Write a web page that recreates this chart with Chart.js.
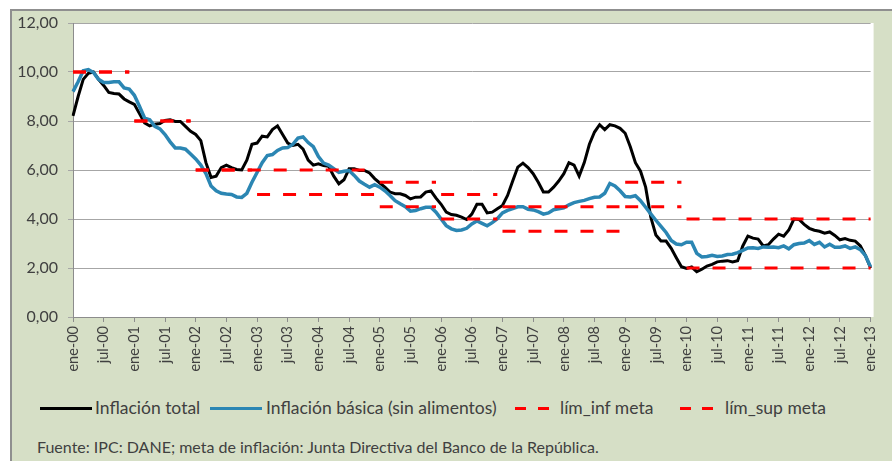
<!DOCTYPE html>
<html lang="es">
<head>
<meta charset="utf-8">
<script src="https://cdn.jsdelivr.net/npm/chart.js@4.4.1/dist/chart.umd.min.js"></script>
<style>
  html, body { margin: 0; padding: 0; background: #fff; }
  body { width: 892px; height: 461px; position: relative; overflow: hidden; font-family: Lato, 'Open Sans', sans-serif; color: #404040; }
  #frame { position: absolute; left: 10px; top: 9px; width: 900px; height: 470px; background: #d6dfc6; border-left: 2px solid #8f8f8f; border-top: 2px solid #8f8f8f; }
  #wrap { position: absolute; left: 0; top: 0; width: 892px; height: 377px; }
  .lg-line { position: absolute; top: 407px; height: 3px; }
  .lg-text { position: absolute; top: 397px; line-height: 22px; font-size: 17.5px; white-space: nowrap; }
  #source { position: absolute; left: 37px; top: 437px; line-height: 20px; font-size: 16px; white-space: nowrap; }
</style>
</head>
<body>
<div id="frame"></div>
<div id="wrap"><canvas id="chart"></canvas></div>

<span class="lg-line" style="left:40px;width:52px;background:#000"></span>
<span class="lg-text" style="left:95px">Inflación total</span>
<span class="lg-line" style="left:210px;width:52px;background:#2b86b3"></span>
<span class="lg-text" style="left:266px">Inflación básica (sin alimentos)</span>
<span class="lg-line" style="left:515px;width:11px;background:#ff0000"></span>
<span class="lg-line" style="left:538px;width:11px;background:#ff0000"></span>
<span class="lg-text" style="left:560px">lím_inf meta</span>
<span class="lg-line" style="left:680px;width:11px;background:#ff0000"></span>
<span class="lg-line" style="left:702px;width:11px;background:#ff0000"></span>
<span class="lg-text" style="left:725px">lím_sup meta</span>
<div id="source">Fuente: IPC: DANE; meta de inflación: Junta Directiva del Banco de la República.</div>

<script>
// monthly series, ene-00 .. ene-13
var monthNames = ['ene', 'feb', 'mar', 'abr', 'may', 'jun', 'jul', 'ago', 'sep', 'oct', 'nov', 'dic'];
var years = ['00', '01', '02', '03', '04', '05', '06', '07', '08', '09', '10', '11', '12', '13'];

var inflacionTotal = [
  8.21, 9.00, 9.70, 9.95, 10.00, 9.70, 9.45, 9.17, 9.12, 9.10, 8.90, 8.78,
  8.68, 8.30, 7.92, 7.80, 7.87, 7.90, 8.02, 8.05, 7.98, 7.98, 7.78, 7.58,
  7.45, 7.20, 6.30, 5.70, 5.75, 6.10, 6.20, 6.10, 6.02, 6.00, 6.40, 7.05,
  7.10, 7.38, 7.35, 7.65, 7.80, 7.45, 7.10, 7.00, 7.05, 6.85, 6.40, 6.20,
  6.25, 6.18, 6.15, 5.75, 5.44, 5.60, 6.05, 6.05, 5.98, 5.98, 5.88, 5.65,
  5.47, 5.30, 5.10, 5.03, 5.03, 4.96, 4.82, 4.89, 4.90, 5.10, 5.15, 4.85,
  4.60, 4.28, 4.18, 4.15, 4.08, 3.98, 4.20, 4.60, 4.60, 4.25, 4.28, 4.42,
  4.55, 4.96, 5.55, 6.12, 6.28, 6.10, 5.85, 5.50, 5.10, 5.10, 5.30, 5.55,
  5.85, 6.30, 6.20, 5.75, 6.30, 7.05, 7.55, 7.85, 7.65, 7.85, 7.80, 7.70,
  7.50, 6.95, 6.30, 5.95, 5.30, 4.08, 3.35, 3.10, 3.10, 2.80, 2.42, 2.05,
  1.98, 2.04, 1.85, 1.95, 2.08, 2.15, 2.25, 2.28, 2.30, 2.25, 2.30, 2.90,
  3.30, 3.22, 3.18, 2.90, 2.95, 3.18, 3.38, 3.30, 3.55, 4.00, 3.98, 3.78,
  3.62, 3.54, 3.50, 3.42, 3.47, 3.33, 3.15, 3.20, 3.13, 3.10, 2.90, 2.50,
  2.00
];

var inflacionBasica = [
  9.20, 9.60, 10.05, 10.10, 9.98, 9.70, 9.57, 9.57, 9.60, 9.60, 9.35, 9.30,
  9.05, 8.60, 8.12, 8.05, 7.78, 7.68, 7.45, 7.15, 6.90, 6.90, 6.85, 6.65,
  6.45, 6.20, 5.85, 5.35, 5.15, 5.05, 5.02, 5.00, 4.90, 4.88, 5.05, 5.50,
  5.90, 6.30, 6.59, 6.63, 6.80, 6.90, 6.92, 7.05, 7.30, 7.35, 7.12, 6.95,
  6.55, 6.28, 6.20, 6.05, 5.90, 5.95, 5.98, 5.78, 5.55, 5.42, 5.30, 5.40,
  5.30, 5.15, 4.96, 4.75, 4.62, 4.50, 4.32, 4.35, 4.42, 4.48, 4.48, 4.28,
  4.00, 3.73, 3.60, 3.53, 3.55, 3.62, 3.80, 3.92, 3.82, 3.72, 3.85, 4.01,
  4.25, 4.35, 4.42, 4.50, 4.50, 4.40, 4.37, 4.30, 4.20, 4.25, 4.38, 4.42,
  4.46, 4.58, 4.67, 4.72, 4.76, 4.83, 4.89, 4.90, 5.05, 5.45, 5.35, 5.15,
  4.92, 4.90, 4.95, 4.75, 4.48, 4.21, 3.95, 3.70, 3.45, 3.12, 2.98, 2.95,
  3.05, 3.05, 2.60, 2.45, 2.47, 2.52, 2.47, 2.49, 2.55, 2.56, 2.63, 2.72,
  2.82, 2.83, 2.80, 2.86, 2.85, 2.86, 2.83, 2.90, 2.78, 2.95, 3.00, 3.02,
  3.12, 2.96, 3.05, 2.86, 2.97, 2.85, 2.85, 2.90, 2.80, 2.86, 2.75, 2.50,
  2.04
];

// inflation target range, one value per year 2000..2013
var metaInf = [10, 8, 6, 5, 5, 4.5, 4, 3.5, 3.5, 4.5, 2, 2, 2, 2];
var metaSup = [10, 8, 6, 6, 6, 5.5, 5, 4.5, 4.5, 5.5, 4, 4, 4, 4];

var labels = [];
var limInf = [];
var limSup = [];
for (var i = 0; i < inflacionTotal.length; i++) {
  var y = Math.floor(i / 12);
  labels.push(monthNames[i % 12] + '-' + years[y]);
  limInf.push(metaInf[y]);
  limSup.push(metaSup[y]);
}

var RED = '#ff0000';
// no connecting stroke where the target changes from one year to the next
function metaSegment(ctx) {
  return ctx.p0.parsed.y !== ctx.p1.parsed.y ? 'rgba(0,0,0,0)' : RED;
}

// white plot area over the green frame
var plotBg = {
  id: 'plotBg',
  beforeDraw: function (chart) {
    var a = chart.chartArea, c = chart.ctx;
    c.save();
    c.fillStyle = '#ffffff';
    c.fillRect(a.left, a.top, a.right - a.left + 3, a.bottom - a.top);
    c.restore();
  }
};

Chart.defaults.font.family = "Lato, 'Open Sans', sans-serif";
Chart.defaults.color = '#404040';

new Chart(document.getElementById('chart'), {
  type: 'line',
  data: {
    labels: labels,
    datasets: [
      { label: 'Inflación total', data: inflacionTotal, borderColor: '#000000', borderWidth: 3, order: 4 },
      { label: 'Inflación básica (sin alimentos)', data: inflacionBasica, borderColor: '#2b86b3', borderWidth: 3.5, order: 3 },
      { label: 'lím_inf meta', data: limInf, borderColor: RED, borderWidth: 3, borderDash: [13, 13], order: 2,
        segment: { borderColor: metaSegment } },
      { label: 'lím_sup meta', data: limSup, borderColor: RED, borderWidth: 3, borderDash: [13, 13], order: 1,
        segment: { borderColor: metaSegment } }
    ]
  },
  options: {
    responsive: true,
    maintainAspectRatio: false,
    animation: false,
    layout: { padding: { top: 23, right: 18, bottom: 0, left: 0 } },
    elements: { point: { radius: 0 }, line: { tension: 0 } },
    plugins: { legend: { display: false }, tooltip: { enabled: false } },
    scales: {
      x: {
        offset: false,
        grid: { drawOnChartArea: false, drawTicks: true, tickLength: 5, color: '#8c8c8c' },
        border: { color: '#8c8c8c' },
        ticks: {
          autoSkip: false, minRotation: 90, maxRotation: 90, padding: 4,
          font: { size: 14.5 },
          callback: function (v, i) { return i % 6 === 0 ? labels[i] : null; }
        },
        afterFit: function (s) { s.height = 60; }
      },
      y: {
        min: 0, max: 12,
        grid: { color: '#a6a6a6', tickLength: 5 },
        border: { color: '#8c8c8c' },
        ticks: {
          stepSize: 2, padding: 10, font: { size: 16 },
          callback: function (v) { return v.toFixed(2).replace('.', ','); }
        },
        afterFit: function (s) { s.width = 73; }
      }
    }
  },
  plugins: [plotBg]
});
</script>
</body>
</html>
